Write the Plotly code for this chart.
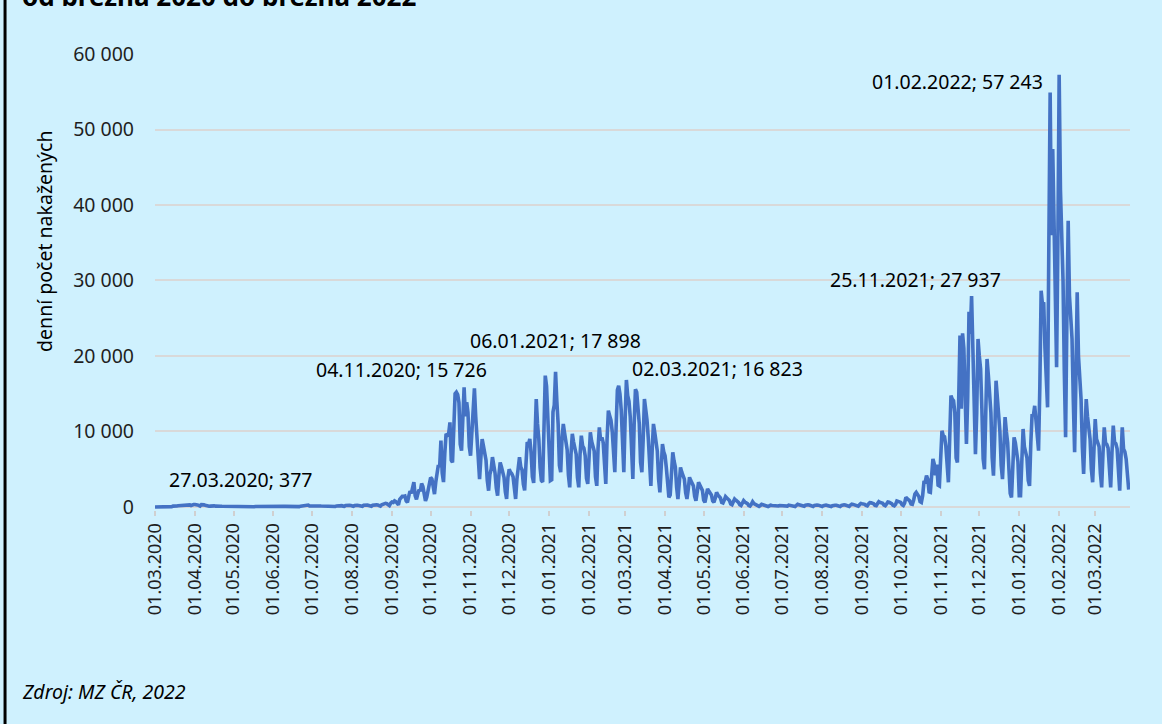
import pandas as pd
import plotly.graph_objects as go

START = "2020-03-01"

# denni pocet novych pripadu, 1.3.2020 - 31.12.2020
cases_2020 = [
    3, 0, 2, 0, 3, 7, 7,
    6, 9, 22, 32, 20, 47, 42,
    109, 84, 88, 129, 160, 180, 150,
    170, 245, 305, 274, 290, 377, 283,
    200, 308, 324, 323, 353, 263, 218,
    128, 316, 239, 279, 227, 140, 109,
    96, 107, 163, 190, 150, 110, 80,
    60, 115, 105, 95, 90, 80, 60,
    45, 70, 75, 80, 60, 40, 30,
    25, 55, 60, 50, 45, 35, 25,
    20, 50, 45, 60, 50, 40, 20,
    25, 60, 55, 40, 45, 50, 30,
    20, 45, 50, 60, 55, 40, 25,
    20, 60, 70, 90, 80, 50, 30,
    25, 70, 75, 80, 70, 60, 40,
    30, 100, 90, 80, 75, 60, 40,
    50, 110, 140, 160, 180, 200, 230,
    260, 140, 125, 120, 110, 90, 70,
    50, 100, 130, 120, 110, 90, 60,
    50, 110, 120, 130, 100, 80, 60,
    70, 140, 170, 200, 240, 180, 110,
    90, 200, 250, 260, 230, 200, 140,
    100, 190, 240, 230, 200, 170, 110,
    90, 230, 260, 250, 240, 200, 120,
    100, 230, 270, 290, 280, 250, 170,
    110, 300, 380, 420, 480, 430, 250,
    180, 500, 650, 600, 800, 700, 400,
    300, 1000, 1200, 1400, 1400, 1450, 800,
    600, 1400, 2100, 1800, 2900, 3300, 1500,
    1000, 1700, 2300, 2100, 3100, 2700, 1500,
    800, 1300, 2000, 3000, 3900, 3700, 2300,
    1700, 3300, 4400, 5560, 5300, 8800, 4500,
    3300, 7100, 9700, 9500, 9700, 11200, 6200,
    5900, 11100, 15000, 15200, 14900, 13800, 8300,
    7460, 11000, 15850, 12000, 13860, 12500, 8000,
    6800, 10000, 12500, 15726, 12000, 9000, 5500,
    3700, 6500, 9000, 8100, 7000, 6200, 3500,
    2160, 4300, 5000, 6600, 5500, 4500, 2500,
    1500, 4200, 5900, 5300, 4600, 3900, 2000,
    1060, 3900, 5000, 4600, 4400, 4000, 2400,
    1060, 3700, 5800, 6600, 5300, 4900, 3000,
    2200, 5600, 8600, 8300, 9000, 7200, 4000,
    3200, 8200, 14300, 11000, 9000, 5200, 3500,
    3300, 12700, 17400, 16000, 10800,
]

# 1.1.2021 - 31.12.2021
cases_2021 = [
    7000, 3500,
    3600, 12600, 13500, 17898, 14000, 11000, 5500,
    4600, 9000, 11000, 9800, 8900, 7600, 4200,
    2600, 7000, 9700, 8600, 7900, 7000, 3900,
    2600, 6900, 9450, 8100, 7800, 6800, 3800,
    3050, 8000, 9900, 8700, 8200, 7400, 4000,
    2800, 7800, 10550, 8800, 9200, 8500, 5000,
    3050, 9000, 12760, 12100, 11500, 10000, 6000,
    4600, 10500, 15500, 16070, 14970, 12800, 7000,
    4600, 11500, 16823, 14750, 14000, 11900, 6500,
    3700, 10800, 15600, 15200, 13000, 11000, 5900,
    4600, 8800, 14300, 12900, 11500, 9100, 4800,
    2800, 7500, 11000, 9900, 8700, 7400, 3700,
    1940, 5200, 8340, 7300, 6800, 5200, 2700,
    1280, 1600, 5000, 7240, 6100, 5300, 2600,
    1060, 3100, 5250, 4600, 4200, 3700, 1900,
    1060, 2300, 3930, 3500, 3200, 2800, 1400,
    840, 2000, 3270, 2900, 2600, 2200, 900,
    620, 1500, 2400, 2100, 1900, 1600, 800,
    620, 1200, 1940, 1600, 1400, 1200, 600,
    530, 900, 1370, 1200, 1000, 850, 400,
    300, 700, 1060, 900, 800, 600, 300,
    200, 500, 840, 650, 550, 450, 200,
    120, 350, 700, 450, 350, 300, 150,
    90, 200, 350, 300, 250, 200, 100,
    60, 150, 250, 200, 180, 150, 70,
    50, 130, 200, 180, 160, 130, 70,
    40, 120, 250, 220, 200, 180, 90,
    70, 200, 350, 300, 250, 220, 120,
    90, 230, 330, 300, 270, 240, 110,
    80, 210, 300, 260, 240, 200, 100,
    60, 180, 280, 250, 200, 180, 90,
    60, 170, 260, 230, 220, 170, 80,
    60, 200, 300, 280, 250, 200, 110,
    80, 250, 380, 340, 300, 270, 140,
    100, 300, 460, 420, 400, 350, 200,
    150, 400, 580, 550, 500, 420, 220,
    170, 450, 700, 600, 550, 480, 250,
    160, 400, 650, 620, 560, 450, 230,
    150, 350, 800, 750, 700, 600, 300,
    200, 500, 1280, 1100, 1000, 800, 400,
    350, 900, 1720, 1940, 1700, 1400, 700,
    600, 1500, 3270, 3300, 4150, 3700, 2000,
    1940, 4000, 6360, 5700, 4200, 5600, 2900,
    2800, 6000, 10100, 9450, 9300, 8100, 4500,
    3270, 9000, 14750, 14300, 14080, 12500, 6500,
    5900, 14000, 22700, 13000, 23000, 21000, 12000,
    8340, 14500, 25864, 22936, 27937, 21000, 10500,
    7000, 12500, 22250, 20000, 18300, 13000, 6360,
    5000, 11500, 19600, 17500, 15600, 12500, 6500,
    4150, 9500, 16730, 14500, 12000, 10000, 5500,
    3700, 7500, 11900, 10000, 8500, 5000, 1800,
    1280, 5500, 9230, 8500, 7000, 6000,
]

# 1.1.2022 - 27.3.2022
cases_2022 = [
    1500,
    1500, 6000, 10330, 8000, 7000, 6500, 3500,
    2800, 8500, 12300, 12100, 13400, 11500, 9000,
    7460, 16000, 28650, 26900, 27100, 21000, 16000,
    13200, 35000, 54900, 36000, 47400, 38000, 25000,
    18500, 35000, 57243, 42000, 36800, 30000, 18000,
    9230, 25000, 37900, 28000, 24000, 22250, 14000,
    7240, 17000, 28430, 20000, 16500, 14300, 8000,
    4370, 9500, 14300, 12000, 10330, 9000, 5000,
    3270, 7500, 11650, 9000, 8600, 8000, 4500,
    2600, 7000, 10550, 8500, 8300, 7800, 4000,
    2600, 7200, 10770, 8600, 8400, 7700, 4200,
    2160, 6500, 10550, 7680, 7300, 6360, 3500,
    2300,
]

label_dates = ["2020-03-27", "2020-11-04", "2021-01-06",
               "2021-03-02", "2021-11-25", "2022-02-01"]

y_ticks = [0, 10000, 20000, 30000, 40000, 50000, 60000]
y_tick_text = ["0", "10 000", "20 000", "30 000", "40 000", "50 000", "60 000"]

title = "od března 2020 do března 2022"
y_title = "denní počet nakažených"
source = "Zdroj: MZ ČR, 2022"

BG = "#CFF1FE"
FONT = "Noto Sans"

cases = cases_2020 + cases_2021 + cases_2022
dates = pd.date_range(START, periods=len(cases), freq="D")
series = pd.Series(cases, index=dates)

fig = go.Figure(go.Scatter(
    x=dates, y=cases, mode="lines",
    line=dict(color="#4472C4", width=3.6),
))

# popisky maxim, posun v pixelech od bodu
shifts = [(52, 25), (-73, 19), (0, 31), (91, 11), (-56, 17), (-102, -7)]
for d, (dx, dy) in zip(label_dates, shifts):
    v = int(series[d])
    txt = f"{pd.Timestamp(d):%d.%m.%Y}; {v:,}".replace(",", " ")
    fig.add_annotation(x=d, y=v, text=txt, showarrow=False,
                       xshift=dx, yshift=dy,
                       font=dict(family=FONT, size=19.5, color="black"))

fig.add_annotation(xref="paper", yref="paper", x=-0.1385, y=1.127,
                   xanchor="left", yanchor="middle", showarrow=False,
                   text=f"<b>{title}</b>",
                   font=dict(family=FONT, size=26, color="black"))
fig.add_annotation(xref="paper", yref="paper", x=-0.1128, y=0.588,
                   xanchor="center", yanchor="middle", showarrow=False,
                   textangle=-90, text=y_title,
                   font=dict(family=FONT, size=19.5, color="black"))
fig.add_annotation(xref="paper", yref="paper", x=-0.1385, y=-0.398,
                   xanchor="left", yanchor="middle", showarrow=False,
                   text=f"<i>{source}</i>",
                   font=dict(family=FONT, size=19.5, color="black"))

# levy okraj ramecku
fig.add_shape(type="line", xref="paper", yref="paper",
              x0=-0.1538, x1=-0.1538, y0=-1, y1=2,
              line=dict(color="black", width=3))

fig.update_layout(
    width=1162, height=724,
    margin=dict(l=155, r=32, t=54, b=214),
    paper_bgcolor=BG, plot_bgcolor=BG,
    showlegend=False,
    font=dict(family=FONT, color="#1f1f1f"),
    xaxis=dict(
        type="date", range=["2020-03-01", "2022-03-28"],
        tick0="2020-03-01", dtick="M1", tickformat="%d.%m.%Y",
        tickangle=-90, ticks="outside", ticklen=5, tickwidth=1.5,
        tickcolor="#D0D0D0", showgrid=False, zeroline=False,
        showline=False, tickfont=dict(size=18),
    ),
    yaxis=dict(
        range=[-400, 60000], tickvals=y_ticks, ticktext=y_tick_text,
        showgrid=True, gridcolor="#D9D9D9", gridwidth=2,
        zeroline=False, ticks="", ticklabelstandoff=20,
        tickfont=dict(size=19.5),
    ),
)

fig.write_html("out.html", config={"displayModeBar": False},
               post_script="document.body.style.margin='0';")
